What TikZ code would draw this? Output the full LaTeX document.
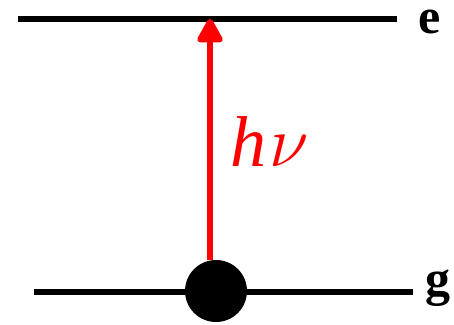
\documentclass[tikz,border=0pt]{standalone}
\usepackage{fix-cm}
\usepackage{fontspec}
\setmainfont{Liberation Serif}
\usetikzlibrary{arrows.meta}
\begin{document}
\begin{tikzpicture}[x=1pt,y=-1pt,
  level/.style={line width=6pt},
  lbl/.style={font=\fontsize{50}{50}\selectfont\bfseries, anchor=base, inner sep=0pt},
  photon/.style={red, line width=6pt, -{Triangle[length=27pt,width=28pt,round]}},
  ground/.style={circle, fill=black, minimum size=62pt, inner sep=0pt}]
\useasboundingbox (0,0) rectangle (454,324);
\coordinate (e1) at (18,19);
\coordinate (e2) at (397,19);
\coordinate (g1) at (34,291.5);
\coordinate (g2) at (413,291.5);
\draw[level] (e1) -- (e2);
\draw[level] (g1) -- (g2);
\node[lbl] (el) at (430,33) {e};
\node[lbl] (gl) at (438,295) {g};
\node[ground] (dot) at (216,291) {};
\coordinate (tip) at (210,19);
\draw[photon] (dot.north -| tip) -- (tip);
\node[red, font=\fontsize{72}{72}\selectfont\itshape, anchor=base west, inner sep=0pt] (hv) at (230,166) {h\kern3pt$\nu$};
\end{tikzpicture}
\end{document}
